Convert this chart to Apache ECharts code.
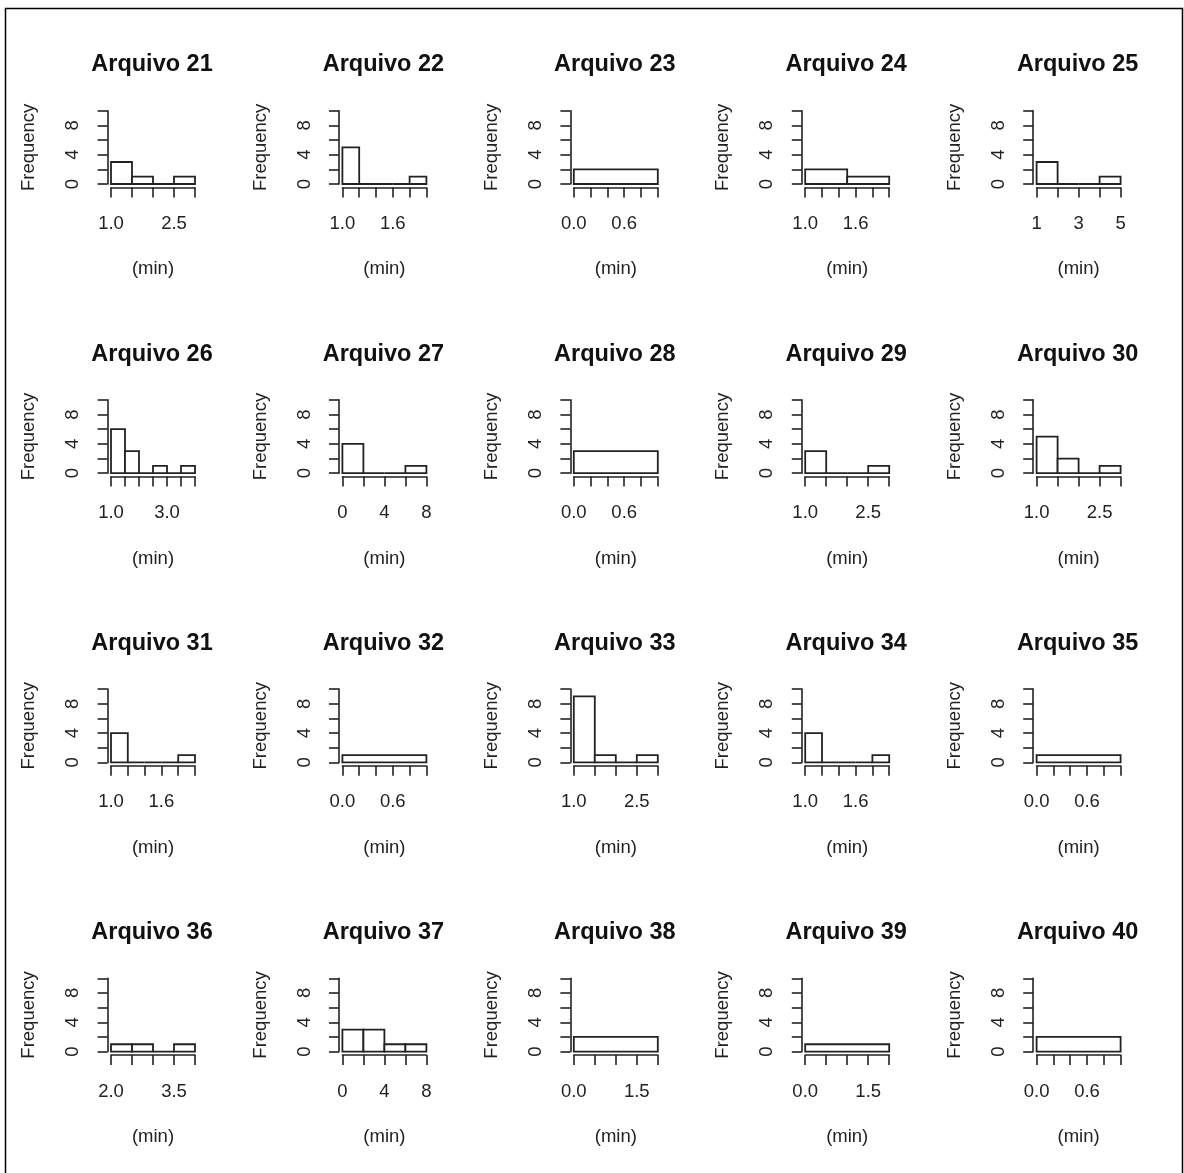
<!DOCTYPE html>
<html>
<head>
<meta charset="utf-8">
<title>Histogramas Arquivo 21-40</title>
<script src="https://cdn.jsdelivr.net/npm/echarts@6/dist/echarts.min.js"></script>
<style>
  html, body { margin: 0; padding: 0; background: #fff; }
  #chart { width: 1184px; height: 1173px; }
</style>
</head>
<body>
<div id="chart"></div>
<script>
// One histogram per file: bin edges, counts per bin, x tick step and the tick labels printed.
const panelTitles = [
  'Arquivo 21', 'Arquivo 22', 'Arquivo 23', 'Arquivo 24', 'Arquivo 25',
  'Arquivo 26', 'Arquivo 27', 'Arquivo 28', 'Arquivo 29', 'Arquivo 30',
  'Arquivo 31', 'Arquivo 32', 'Arquivo 33', 'Arquivo 34', 'Arquivo 35',
  'Arquivo 36', 'Arquivo 37', 'Arquivo 38', 'Arquivo 39', 'Arquivo 40'
];

const binEdges = [
  [1, 1.5, 2, 2.5, 3],
  [1, 1.2, 1.4, 1.6, 1.8, 2],
  [0, 1],
  [1, 1.5, 2],
  [1, 2, 3, 4, 5],
  [1, 1.5, 2, 2.5, 3, 3.5, 4],
  [0, 2, 4, 6, 8],
  [0, 1],
  [1, 1.5, 2, 2.5, 3],
  [1, 1.5, 2, 2.5, 3],
  [1, 1.2, 1.4, 1.6, 1.8, 2],
  [0, 1],
  [1, 1.5, 2, 2.5, 3],
  [1, 1.2, 1.4, 1.6, 1.8, 2],
  [0, 1],
  [2, 2.5, 3, 3.5, 4],
  [0, 2, 4, 6, 8],
  [0, 2],
  [0, 2],
  [0, 1]
];

const binCounts = [
  [3, 1, 0, 1],
  [5, 0, 0, 0, 1],
  [2],
  [2, 1],
  [3, 0, 0, 1],
  [6, 3, 0, 1, 0, 1],
  [4, 0, 0, 1],
  [3],
  [3, 0, 0, 1],
  [5, 2, 0, 1],
  [4, 0, 0, 0, 1],
  [1],
  [9, 1, 0, 1],
  [4, 0, 0, 0, 1],
  [1],
  [1, 1, 0, 1],
  [3, 3, 1, 1],
  [2],
  [1],
  [2]
];

const xTickStep = [
  0.5, 0.2, 0.2, 0.2, 1,
  0.5, 2, 0.2, 0.5, 0.5,
  0.2, 0.2, 0.5, 0.2, 0.2,
  0.5, 2, 0.5, 0.5, 0.2
];

const xTickLabels = [
  ['1.0', '2.5'], ['1.0', '1.6'], ['0.0', '0.6'], ['1.0', '1.6'], ['1', '3', '5'],
  ['1.0', '3.0'], ['0', '4', '8'], ['0.0', '0.6'], ['1.0', '2.5'], ['1.0', '2.5'],
  ['1.0', '1.6'], ['0.0', '0.6'], ['1.0', '2.5'], ['1.0', '1.6'], ['0.0', '0.6'],
  ['2.0', '3.5'], ['0', '4', '8'], ['0.0', '1.5'], ['0.0', '1.5'], ['0.0', '0.6']
];

const yRange = [0, 10];
const yTickStep = 2;
const yTickLabels = ['0', '4', '8'];

const xAxisName = '(min)';
const yAxisName = 'Frequency';

// Layout of the 5 x 4 panel grid (pixels)
const COLS = 5;
const colStart = 111;      // left edge of first panel's data range
const colStep = 231.4;
const rowBase = 184;       // y of count 0 in first row
const rowStep = 289.2;
const dataW = 84;
const dataH = 73.3;
const axisPad = 3.4;       // axes sit slightly outside the data range

const ink = '#222';
const font = '"Liberation Sans", Arial, sans-serif';
const smallSize = 18.5;

const grids = [], xAxes = [], yAxes = [], series = [], titles = [];

panelTitles.forEach((name, i) => {
  const col = i % COLS, row = Math.floor(i / COLS);
  const left = colStart + colStep * col;
  const base = rowBase + rowStep * row;
  const edges = binEdges[i];
  const counts = binCounts[i];
  const labels = xTickLabels[i];

  grids.push({ left: left, top: base - dataH, width: dataW, height: dataH, containLabel: false, outerBoundsMode: 'none' });

  titles.push({
    text: name,
    left: left + dataW / 2 - 1,
    top: base - 131,
    padding: 0,
    textAlign: 'center',
    textStyle: { fontFamily: font, fontSize: 23.5, fontWeight: 'bold', color: '#111' }
  });

  xAxes.push({
    type: 'value',
    gridIndex: i,
    min: edges[0],
    max: edges[edges.length - 1],
    interval: xTickStep[i],
    offset: axisPad,
    name: xAxisName,
    nameLocation: 'middle',
    nameGap: 72.5,
    nameTextStyle: { fontFamily: font, fontSize: smallSize, color: ink },
    axisLine: { show: true, onZero: false, lineStyle: { color: ink, width: 1.6 } },
    axisTick: { show: true, length: 10, lineStyle: { color: ink, width: 1.6 } },
    splitLine: { show: false },
    axisLabel: {
      margin: 27,
      fontFamily: font,
      fontSize: smallSize,
      color: ink,
      showMinLabel: true,
      showMaxLabel: true,
      formatter: (v) => {
        const hit = labels.find((s) => Math.abs(parseFloat(s) - v) < 1e-6);
        return hit === undefined ? '' : hit;
      }
    }
  });

  yAxes.push({
    type: 'value',
    gridIndex: i,
    min: yRange[0],
    max: yRange[1],
    interval: yTickStep,
    offset: axisPad,
    name: yAxisName,
    nameLocation: 'middle',
    nameGap: 69,
    nameTextStyle: { fontFamily: font, fontSize: smallSize, color: ink },
    axisLine: { show: true, onZero: false, lineStyle: { color: ink, width: 1.6 } },
    axisTick: { show: true, length: 10, lineStyle: { color: ink, width: 1.6 } },
    splitLine: { show: false },
    axisLabel: {
      rotate: 90,
      margin: 25,
      fontFamily: font,
      fontSize: smallSize,
      color: ink,
      showMinLabel: true,
      showMaxLabel: true,
      formatter: (v) => {
        const hit = yTickLabels.find((s) => Math.abs(parseFloat(s) - v) < 1e-6);
        return hit === undefined ? '' : hit;
      }
    }
  });

  const binData = counts.map((n, k) => [edges[k], edges[k + 1], n]);

  series.push({
    type: 'custom',
    xAxisIndex: i,
    yAxisIndex: i,
    clip: false,
    silent: true,
    encode: { x: [0, 1], y: 2 },
    data: binData,
    renderItem: (params, api) => {
      const top = api.coord([api.value(0), api.value(2)]);
      const bottom = api.coord([api.value(1), 0]);
      return {
        type: 'rect',
        shape: { x: top[0], y: top[1], width: bottom[0] - top[0], height: bottom[1] - top[1] },
        style: { fill: '#fff', stroke: ink, lineWidth: 1.8 }
      };
    }
  });
});

const chart = echarts.init(document.getElementById('chart'), null, { renderer: 'canvas' });
chart.setOption({
  backgroundColor: '#fff',
  animation: false,
  title: titles,
  grid: grids,
  xAxis: xAxes,
  yAxis: yAxes,
  series: series,
  graphic: [{
    type: 'rect',
    silent: true,
    shape: { x: 5.5, y: 8.5, width: 1177, height: 1200 },
    style: { fill: 'none', stroke: '#000', lineWidth: 1.5 },
    z: 100
  }]
});
</script>
</body>
</html>
